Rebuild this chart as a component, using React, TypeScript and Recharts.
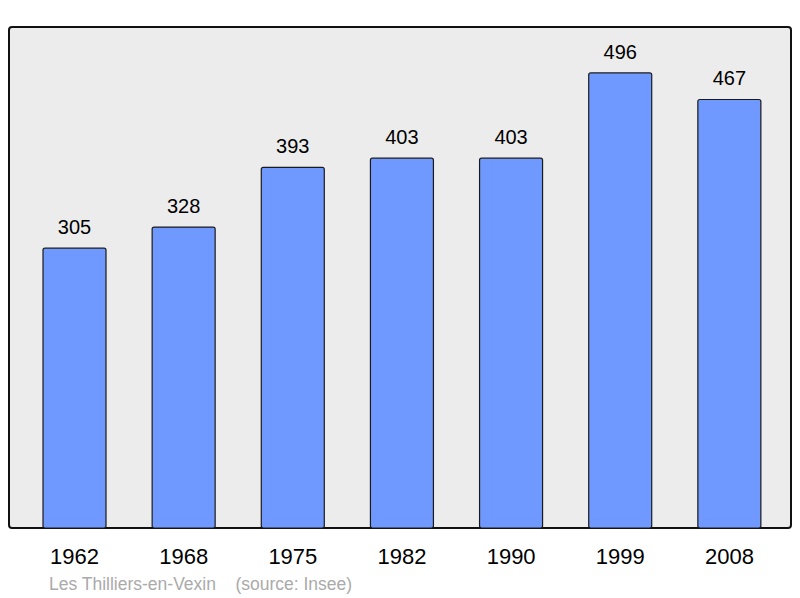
import { Bar, BarChart, LabelList, XAxis, YAxis } from "recharts";

const years = ["1962", "1968", "1975", "1982", "1990", "1999", "2008"];
const population = [305, 328, 393, 403, 403, 496, 467];

const data = years.map((year, i) => ({ year, population: population[i] }));

const font = "'Liberation Sans', Arial, sans-serif";

export default function App() {
    return (
        <div style={{ position: "absolute", left: 0, top: 0, width: 800, height: 598, background: "#fff", fontFamily: font }}>
            <div
                style={{
                    position: "absolute",
                    left: 8,
                    top: 26,
                    width: 780,
                    height: 499,
                    border: "2px solid #111",
                    borderRadius: 4,
                    background: "#ececec",
                }}
            />
            <BarChart
                width={800}
                height={598}
                data={data}
                margin={{ top: 27, right: 9, left: 9, bottom: 40 }}
                style={{ position: "absolute", left: 0, top: 0 }}
            >
                <XAxis
                    dataKey="year"
                    axisLine={false}
                    tickLine={false}
                    padding={{ left: 11, right: 7 }}
                    tick={{ fill: "#000", fontSize: 22, fontFamily: font }}
                    dy={12}
                    interval={0}
                />
                <YAxis hide domain={[0, 546]} />
                <Bar
                    dataKey="population"
                    fill="#7099ff"
                    stroke="#1a1a1a"
                    strokeWidth={1.2}
                    barSize={63}
                    radius={2}
                    isAnimationActive={false}
                >
                    <LabelList dataKey="population" position="top" offset={14} fill="#000" fontSize={20} fontFamily={font} />
                </Bar>
            </BarChart>
            <div style={{ position: "absolute", left: 49, top: 574, fontSize: 17.5, color: "#aaa", fontFamily: font, whiteSpace: "pre" }}>
                {"Les Thilliers-en-Vexin    (source: Insee)"}
            </div>
        </div>
    );
}
